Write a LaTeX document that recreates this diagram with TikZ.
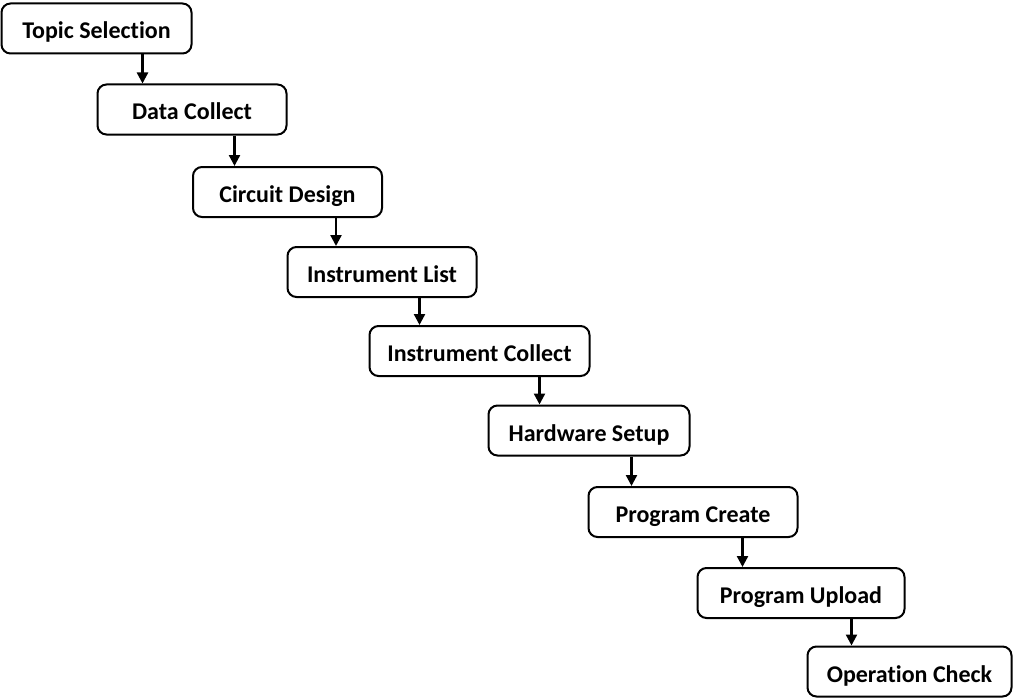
\documentclass[tikz,border=0pt]{standalone}
\usepackage{fontspec}
\setmainfont[Ligatures={NoCommon}]{Carlito}
\usetikzlibrary{arrows.meta}
\tikzset{
  stepbox/.style={draw=black, line width=2pt, rounded corners=9pt, fill=white,
    minimum height=50pt, inner sep=0pt, text height=21pt, text depth=0pt,
    font=\fontsize{24}{26}\selectfont\bfseries},
  arr/.style={line width=2.3pt, -{Triangle[length=11pt,width=11pt]}}
}
\begin{document}
\begin{tikzpicture}[x=1pt,y=-1pt]
\useasboundingbox[fill=white] (0,0) rectangle (1016,698);
\node[stepbox, minimum width=190pt] (n1) at (96.5,28.5) {Topic Selection};
\node[stepbox, minimum width=189pt] (n2) at (192,109.5) {Data Collect};
\node[stepbox, minimum width=189pt] (n3) at (287.5,192) {Circuit Design};
\node[stepbox, minimum width=189pt] (n4) at (382,272) {Instrument List};
\node[stepbox, minimum width=220pt] (n5) at (479.5,351) {Instrument Collect};
\node[stepbox, minimum width=201pt] (n6) at (589,430.5) {Hardware Setup};
\node[stepbox, minimum width=209pt] (n7) at (693,512) {Program Create};
\node[stepbox, minimum width=207pt] (n8) at (801,593) {Program Upload};
\node[stepbox, minimum width=204pt] (n9) at (909.5,671.5) {Operation Check};
\path (n1.south west) ++(142,0) coordinate (a1);
\path (n2.south west) ++(138,0) coordinate (a2);
\path (n3.south west) ++(144,0) coordinate (a3);
\path (n4.south west) ++(133,0) coordinate (a4);
\path (n5.south west) ++(171,0) coordinate (a5);
\path (n6.south west) ++(144,0) coordinate (a6);
\path (n7.south west) ++(155,0) coordinate (a7);
\path (n8.south west) ++(155,0) coordinate (a8);
\draw[arr] (a1) -- (a1 |- n2.north);
\draw[arr] (a2) -- (a2 |- n3.north);
\draw[arr] (a3) -- (a3 |- n4.north);
\draw[arr] (a4) -- (a4 |- n5.north);
\draw[arr] (a5) -- (a5 |- n6.north);
\draw[arr] (a6) -- (a6 |- n7.north);
\draw[arr] (a7) -- (a7 |- n8.north);
\draw[arr] (a8) -- (a8 |- n9.north);
\end{tikzpicture}
\end{document}
